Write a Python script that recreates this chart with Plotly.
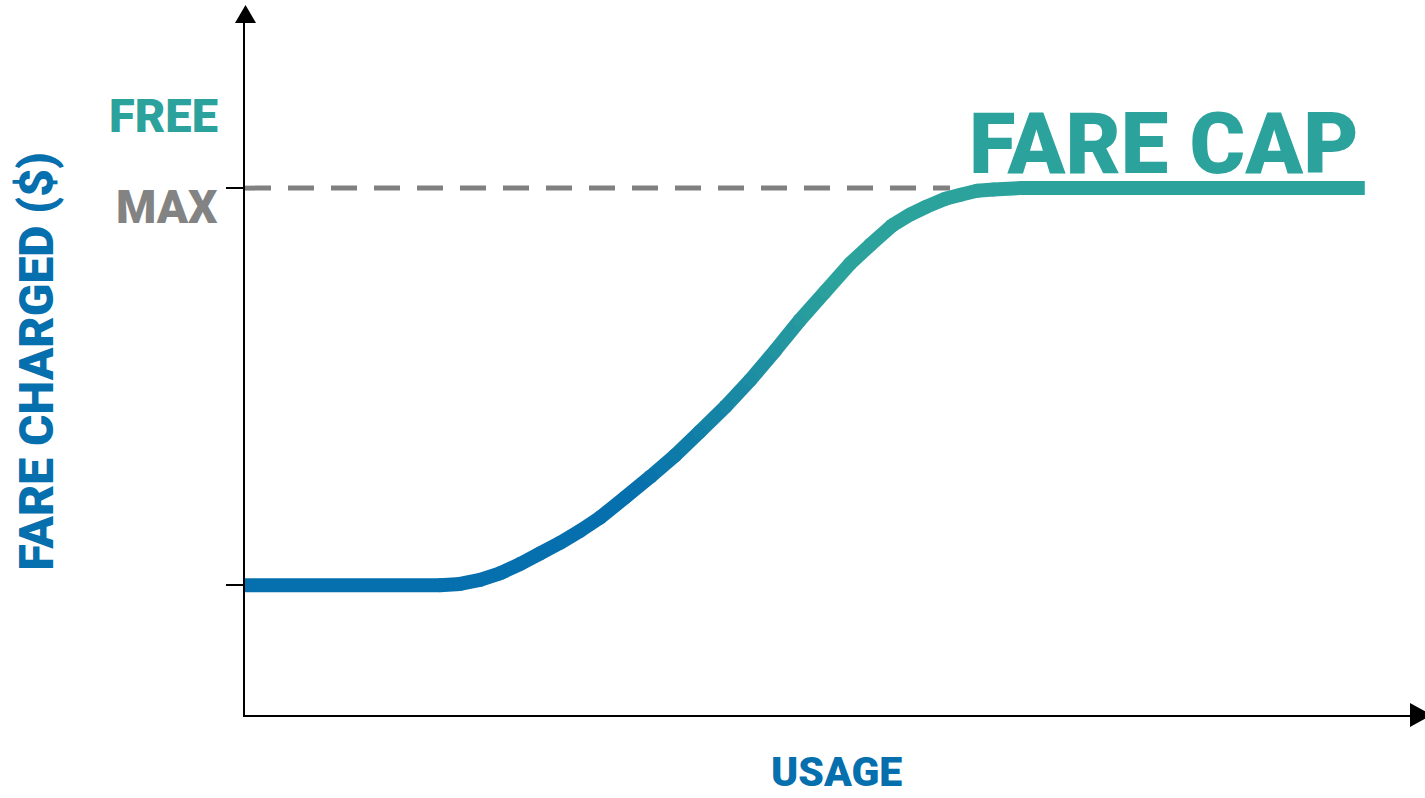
import plotly.graph_objects as go

# ---- data ----
usage = [0.0, 1.66, 1.83, 2.00, 2.17, 2.34, 2.51, 2.68, 2.85, 3.02, 3.23, 3.45, 3.66, 3.87,
         4.09, 4.30, 4.51, 4.72, 4.94, 5.15, 5.32, 5.51, 5.66, 5.80, 5.96, 6.09, 6.23, 6.37,
         6.60, 9.53]
fare = [1.0, 1.00, 1.01, 1.04, 1.09, 1.16, 1.24, 1.32, 1.41, 1.51, 1.66, 1.82, 1.98, 2.16,
        2.35, 2.55, 2.77, 3.00, 3.22, 3.43, 3.57, 3.72, 3.80, 3.86, 3.92, 3.95, 3.98, 3.99,
        4.00, 4.00]

low_fare = 1.0
max_fare = 4.0
free_level = 4.55
cap_line_x = [0.0, 6.0]

tick_vals = [low_fare, max_fare]
y_label_free = "FREE"
y_label_max = "MAX"
y_title = "FARE CHARGED ($)"
x_title = "USAGE"
cap_label = "FARE CAP"

# ---- styles ----
BLUE = (6, 111, 173)
TEAL = (44, 162, 156)
GRAY = "#838383"
FONT = "Roboto"

W, H = 1425, 798
L, R, T, B = 245, 5, 20, 83
X_RANGE = [0, 10]
Y_RANGE = [0.02, 5.27]
LW = 14


def px_to_paper(px, py):
    return (px - L) / (W - L - R), (H - B - py) / (H - B - T)


def color_at(x):
    t = min(max((x - 3.3) / (5.0 - 3.3), 0), 1)
    c = [round(BLUE[i] + (TEAL[i] - BLUE[i]) * t) for i in range(3)]
    return "rgb(%d,%d,%d)" % tuple(c)


fig = go.Figure()

# dashed max line
fig.add_trace(go.Scatter(x=cap_line_x, y=[max_fare, max_fare], mode="lines",
                         line=dict(color="#808080", width=5, dash="26px,17px"),
                         hoverinfo="skip", showlegend=False))

# gradient curve as segments
for i in range(len(usage) - 1):
    xm = (usage[i] + usage[i + 1]) / 2
    col = color_at(xm)
    fig.add_trace(go.Scatter(x=usage[i:i + 2], y=fare[i:i + 2], mode="lines",
                             line=dict(color=col, width=LW),
                             hoverinfo="skip", showlegend=False))
# round joints
fig.add_trace(go.Scatter(x=usage[1:-1], y=fare[1:-1], mode="markers",
                         marker=dict(size=LW, color=[color_at(v) for v in usage[1:-1]],
                                     line=dict(width=0)),
                         hoverinfo="skip", showlegend=False))


def f(size, color):
    return dict(family=FONT, size=size, color=color, weight=900)


ann = []
ann.append(dict(text=y_label_free, x=0, xref="paper", xshift=-25, xanchor="right",
                y=free_level, yref="y", yanchor="middle", showarrow=False,
                font=f(47, "rgb(44,162,156)")))
ann.append(dict(text=y_label_max, x=0, xref="paper", xshift=-25, xanchor="right",
                y=3.86, yref="y", yanchor="middle", showarrow=False,
                font=f(46, GRAY)))
ann.append(dict(text=cap_label, x=9.5, xref="x", xanchor="right",
                y=4.33, yref="y", yanchor="middle", showarrow=False,
                font=f(85, "rgb(44,162,156)")))
ann.append(dict(text=y_title, x=0, xref="paper", xshift=-208, xanchor="center",
                y=2.69, yref="y", yanchor="middle", textangle=-90, showarrow=False,
                font=f(48, "rgb(6,111,173)")))
ann.append(dict(text=x_title, x=5.03, xref="x", xanchor="center",
                y=0, yref="paper", yshift=-57, yanchor="middle", showarrow=False,
                font=f(41, "rgb(6,111,173)")))

# axis arrowheads
ax0, ay0 = px_to_paper(235, 23)
ax1, ay1 = px_to_paper(245.5, 5)
ax2, ay2 = px_to_paper(256, 23)
bx0, by0 = px_to_paper(1410, 703)
bx1, by1 = px_to_paper(1432, 715)
bx2, by2 = px_to_paper(1410, 727)
shapes = [
    dict(type="path", xref="paper", yref="paper",
         path="M %f %f L %f %f L %f %f Z" % (ax0, ay0, ax1, ay1, ax2, ay2),
         fillcolor="black", line=dict(width=0)),
    dict(type="path", xref="paper", yref="paper",
         path="M %f %f L %f %f L %f %f Z" % (bx0, by0, bx1, by1, bx2, by2),
         fillcolor="black", line=dict(width=0)),
]

fig.update_layout(
    width=W, height=H,
    margin=dict(l=L, r=R, t=T, b=B, pad=0),
    plot_bgcolor="white", paper_bgcolor="white",
    annotations=ann, shapes=shapes,
    xaxis=dict(range=X_RANGE, showgrid=False, zeroline=False, showline=True,
               linecolor="black", linewidth=2, showticklabels=False, ticks=""),
    yaxis=dict(range=Y_RANGE, showgrid=False, zeroline=False, showline=True,
               linecolor="black", linewidth=2, showticklabels=False,
               tickmode="array", tickvals=tick_vals, ticks="outside",
               ticklen=17, tickwidth=1.5, tickcolor="black"),
)

fig.write_html("out.html", config={"displayModeBar": False},
               post_script="document.body.style.margin='0';document.body.style.overflow='hidden';")
